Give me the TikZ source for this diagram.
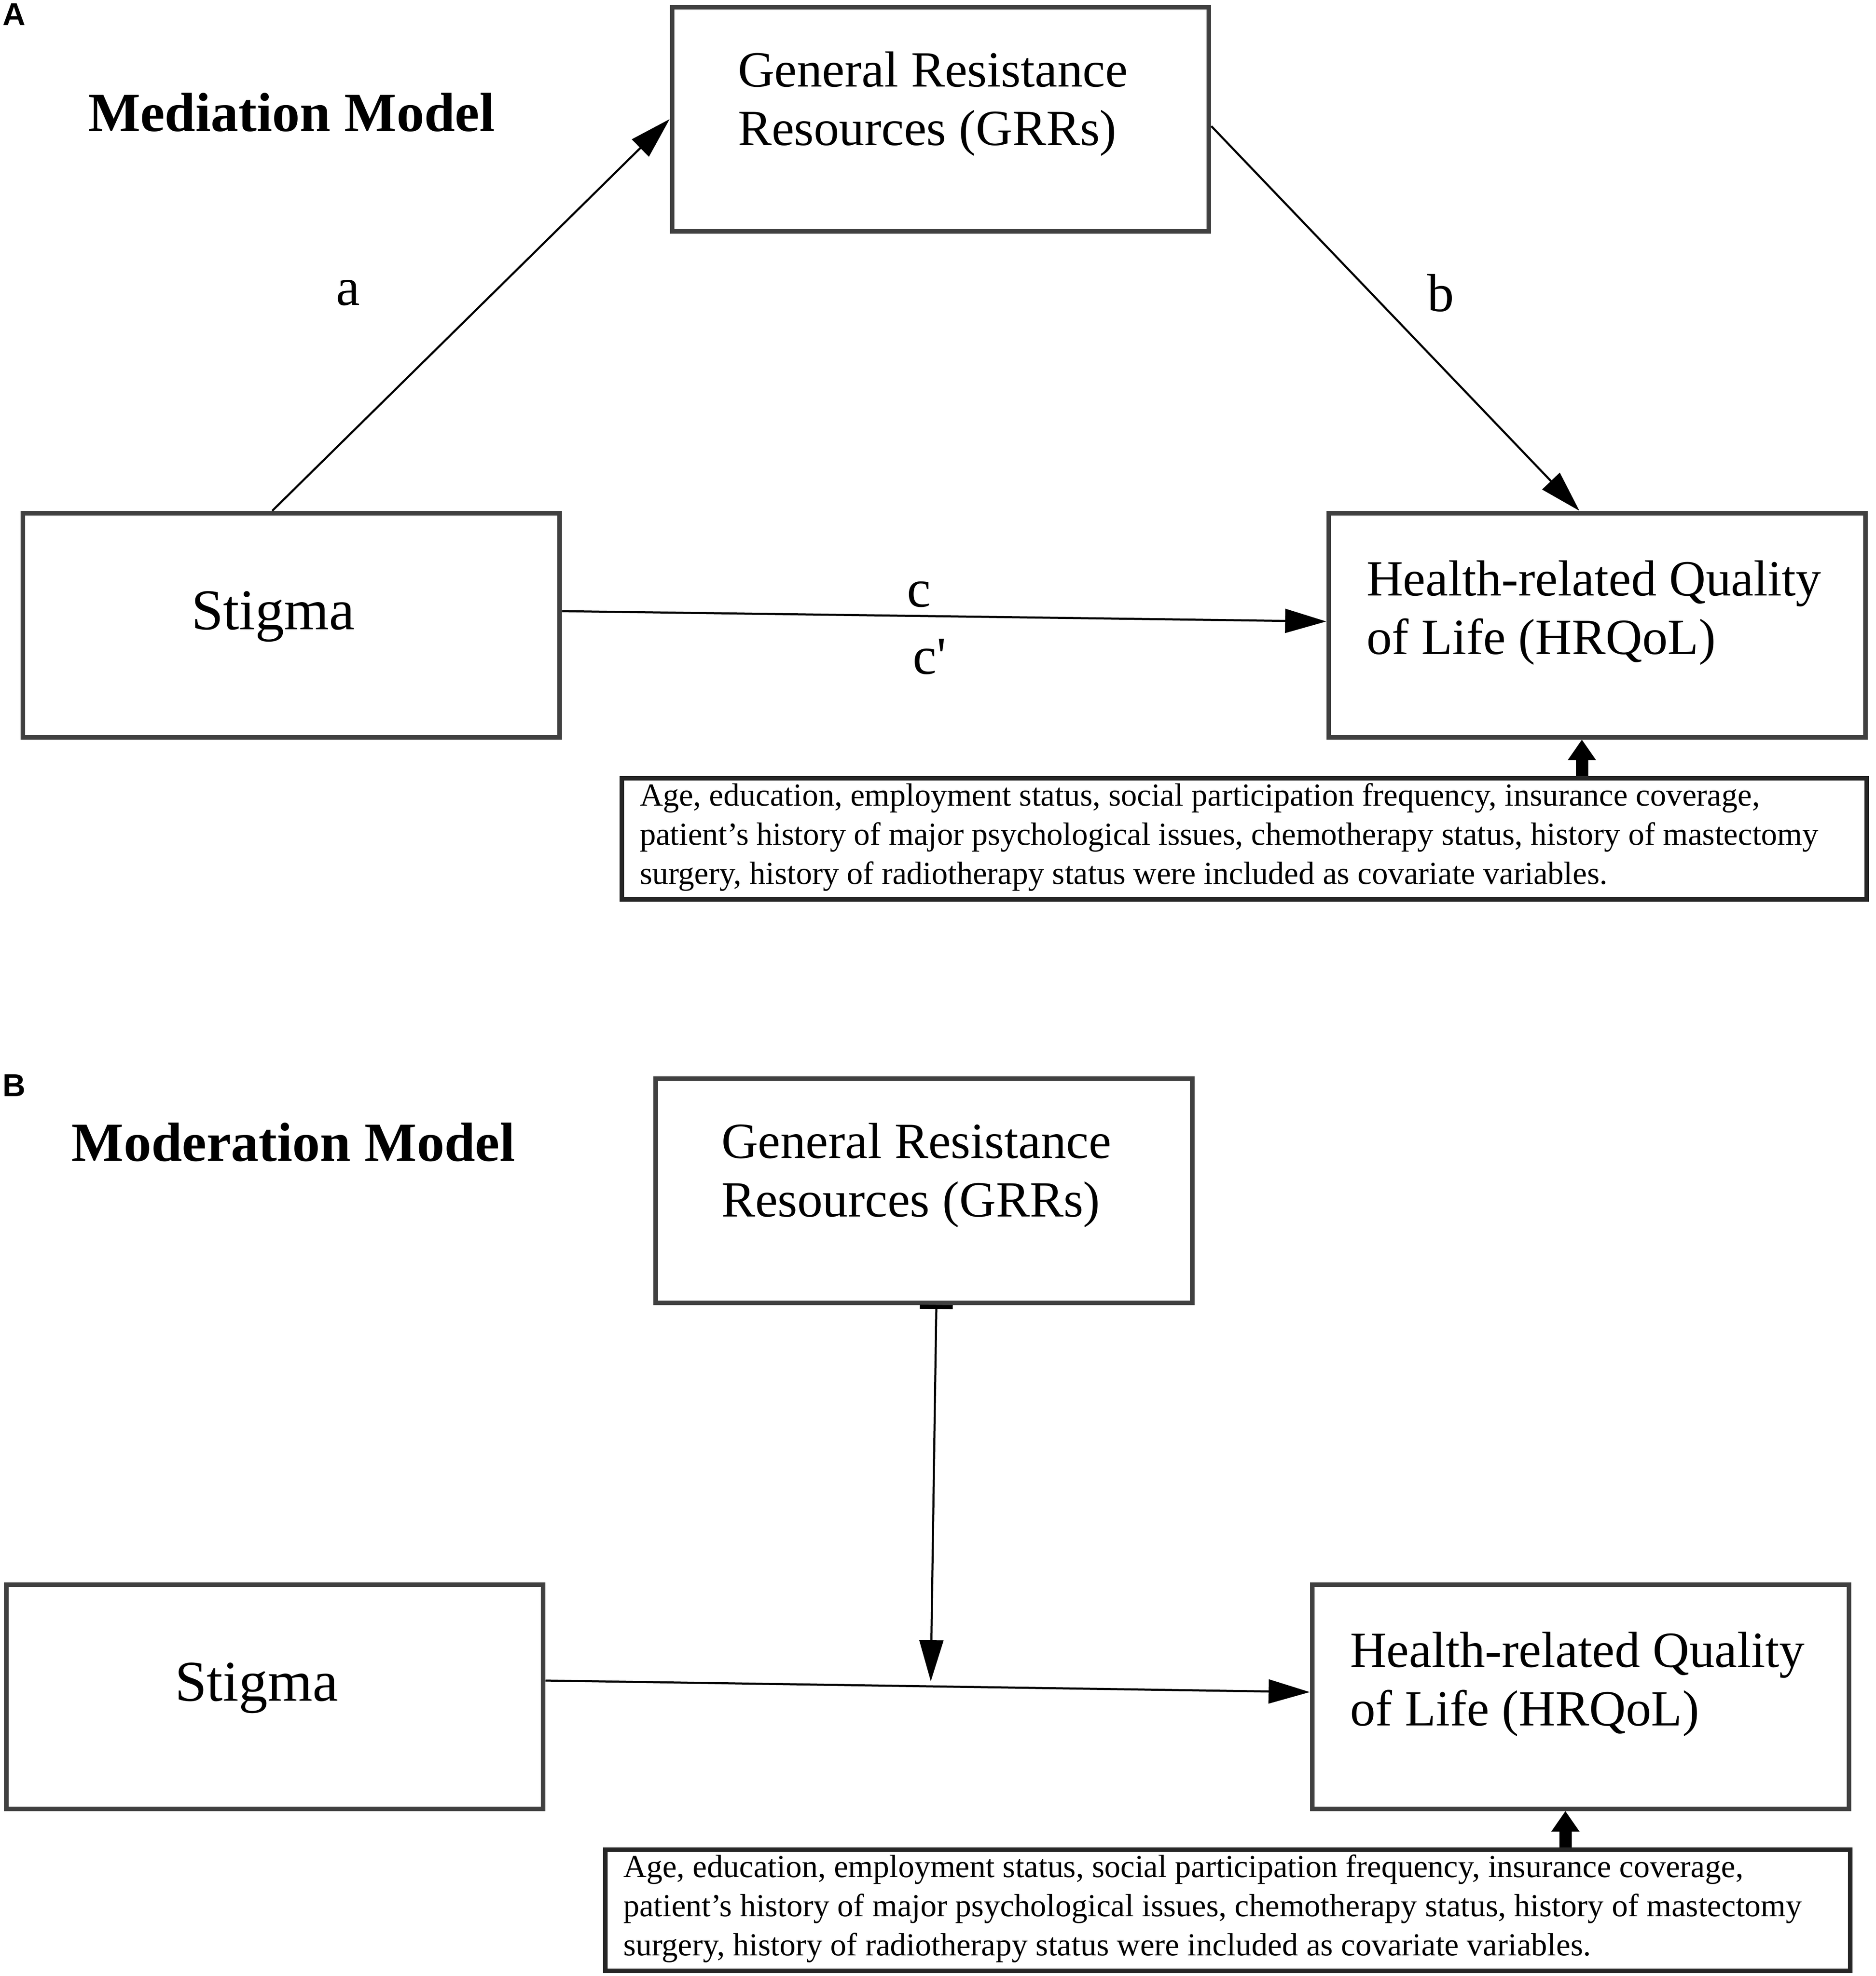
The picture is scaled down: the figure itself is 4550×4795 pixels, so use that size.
\documentclass[tikz,border=0pt]{standalone}
\usepackage{fontspec}
\setmainfont{Liberation Serif}
\newfontfamily\panelfont{Liberation Sans}
\usetikzlibrary{arrows.meta,calc}
\begin{document}
\begin{tikzpicture}[x=0.1pt,y=-0.1pt,
  box/.style={draw=black!75, line width=1.1pt, rectangle, inner sep=0pt,
    minimum width=130.3pt, minimum height=54.4pt},
  covbox/.style={draw=black!85, line width=1.1pt, rectangle, inner sep=0pt,
    minimum width=302.1pt, minimum height=29.4pt},
  boxtxt/.style={inner sep=0pt, anchor=base west, font=\fontsize{12.3pt}{14.2pt}\selectfont},
  stigtxt/.style={inner sep=0pt, anchor=base west, font=\fontsize{14pt}{16pt}\selectfont},
  covtxt/.style={inner sep=0pt, anchor=base west, font=\fontsize{7.8pt}{9.5pt}\selectfont},
  pathlbl/.style={inner sep=0pt, anchor=base, font=\fontsize{13pt}{15pt}\selectfont},
  titletxt/.style={inner sep=0pt, anchor=base west, font=\fontsize{13.4pt}{15pt}\selectfont\bfseries},
  paneltxt/.style={inner sep=0pt, anchor=base west, font=\panelfont\bfseries\fontsize{7.7pt}{9pt}\selectfont},
  conn/.style={line width=0.5pt, -{Triangle[length=10pt,width=5.8pt]}},
  covconn/.style={line width=3pt, -{Triangle[length=5pt,width=6.5pt]}},
]
\fill[white] (0,0) rectangle (4550,4795);
\useasboundingbox (0,0) rectangle (4550,4795);

% ---------------- Panel A ----------------
\node[paneltxt] (labA) at (4,61) {A};
\node[titletxt] (titA) at (212,318) {Mediation Model};

\node[box] (grrA) at (2281.5,289) {};
\node[box] (stA) at (706.5,1517) {};
\node[box] (hqA) at (3874.5,1517) {};
\node[covbox] (covA) at (3018.5,2035) {};

\node[boxtxt] (grrAt) at (1788,210) {\vtop{\hbox{General Resistance}\hbox{Resources (GRRs)}}};
\node[stigtxt] (stAt) at (462,1527) {Stigma};
\node[boxtxt] (hqAt) at (3313,1445) {\vtop{\hbox{Health-related Quality}\hbox{of Life (HRQoL)}}};
\node[covtxt] (covAt) at (1550,1955) {\vtop{%
  \hbox{Age, education, employment status, social participation frequency, insurance coverage,}%
  \hbox{patient’s history of major psychological issues, chemotherapy status, history of mastectomy}%
  \hbox{surgery, history of radiotherapy status were included as covariate variables.}}};

\coordinate (aS) at ($(stA.north)+(-46,0)$);
\coordinate (bS) at ($(grrA.east)+(0,17)$);
\coordinate (bE) at ($(hqA.north)+(-43,0)$);
\coordinate (cS) at ($(stA.east)+(0,-34)$);
\coordinate (cE) at ($(hqA.west)+(0,-9)$);
\coordinate (kA) at ($(hqA.south)+(-37,0)$);

\draw[conn] (aS) -- (grrA.west);
\draw[conn] (bS) -- (bE);
\draw[conn] (cS) -- (cE);
\draw[covconn] (covA.north -| kA) -- (kA);

\node[pathlbl] (la) at (844,740) {a};
\node[pathlbl] (lb) at (3495,755) {b};
\node[pathlbl] (lc) at (2229,1472) {c};
\node[pathlbl] (lc2) at (2255,1635) {c\textquotesingle};

% ---------------- Panel B ----------------
\node[paneltxt] (labB) at (4,2660) {B};
\node[titletxt] (titB) at (172,2817) {Moderation Model};

\node[box] (grrB) at (2241.5,2889) {};
\node[box] (stB) at (666.5,4117) {};
\node[box] (hqB) at (3834.5,4117) {};
\node[covbox] (covB) at (2978.5,4635) {};

\node[boxtxt] (grrBt) at (1748,2810) {\vtop{\hbox{General Resistance}\hbox{Resources (GRRs)}}};
\node[stigtxt] (stBt) at (422,4127) {Stigma};
\node[boxtxt] (hqBt) at (3273,4045) {\vtop{\hbox{Health-related Quality}\hbox{of Life (HRQoL)}}};
\node[covtxt] (covBt) at (1510,4555) {\vtop{%
  \hbox{Age, education, employment status, social participation frequency, insurance coverage,}%
  \hbox{patient’s history of major psychological issues, chemotherapy status, history of mastectomy}%
  \hbox{surgery, history of radiotherapy status were included as covariate variables.}}};

\coordinate (mS) at ($(grrB.south)+(30,0)$);
\coordinate (modtip) at (2258,4080);
\coordinate (sS) at ($(stB.east)+(0,-39)$);
\coordinate (sE) at ($(hqB.west)+(0,-11)$);
\coordinate (kB) at ($(hqB.south)+(-37,0)$);

\draw[conn, {Bar[width=8pt,line width=1pt]}-{Triangle[length=10pt,width=5.8pt]}] (mS) -- (modtip);
\draw[conn] (sS) -- (sE);
\draw[covconn] (covB.north -| kB) -- (kB);
\end{tikzpicture}
\end{document}
